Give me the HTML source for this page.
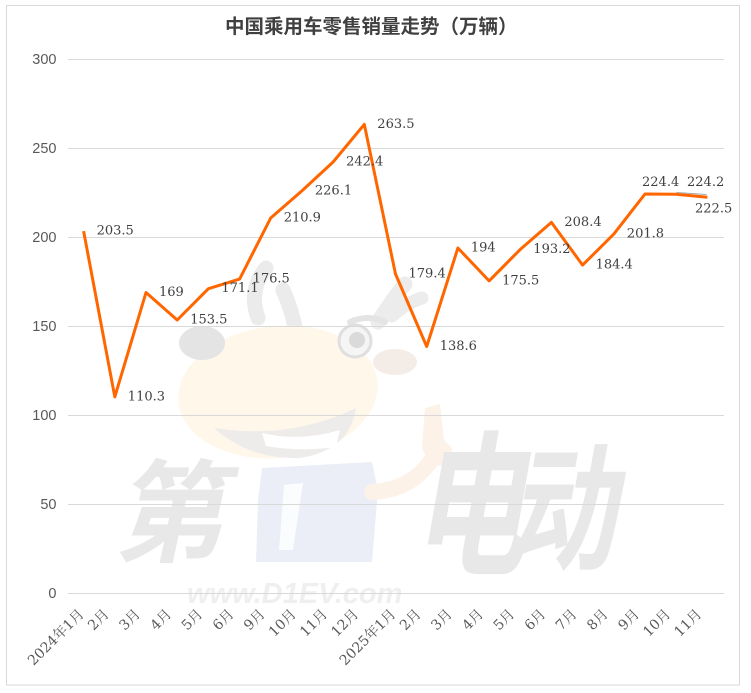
<!DOCTYPE html>
<html>
<head>
<meta charset="utf-8">
<style>
html,body{margin:0;padding:0;background:#fff;}
svg{display:block;}
</style>
</head>
<body>
<svg width="751" height="693" viewBox="0 0 751 693" xmlns="http://www.w3.org/2000/svg">
<rect x="0" y="0" width="751" height="693" fill="#ffffff"/>
<rect x="6.5" y="5.5" width="733" height="679.5" fill="none" stroke="#d9d9d9" stroke-width="1"/>

<!-- watermark -->
<g>
  <!-- antlers -->
  <path d="M266,268 Q248,290 258,318" stroke="#ebebeb" stroke-width="15" stroke-linecap="round" fill="none"/>
  <path d="M283,290 Q292,310 296,332" stroke="#ebebeb" stroke-width="15" stroke-linecap="round" fill="none"/>
  <path d="M378,322 Q392,300 405,284" stroke="#ececec" stroke-width="15" stroke-linecap="round" fill="none"/>
  <path d="M392,316 Q408,302 422,298" stroke="#ececec" stroke-width="13" stroke-linecap="round" fill="none"/>
  <!-- head -->
  <ellipse cx="278" cy="392" rx="100" ry="66" fill="#fef7ea" transform="rotate(-6 278 392)"/>
  <!-- ear -->
  <ellipse cx="202" cy="343" rx="23" ry="17" fill="#e4e4e4"/>
  <!-- snout -->
  <ellipse cx="395" cy="362" rx="22" ry="13" fill="#f4ece6"/>
  <!-- eyebrow -->
  <path d="M350,322 Q368,314 385,322" stroke="#e4e4e4" stroke-width="6" fill="none" stroke-linecap="round"/>
  <!-- eye -->
  <circle cx="355" cy="341" r="16" fill="#f5f5f5" stroke="#dfdfdf" stroke-width="3"/>
  <circle cx="357" cy="340" r="8" fill="#dadada"/>
  <!-- mouth -->
  <path d="M214,428 Q290,440 356,408 Q350,450 300,458 Q250,460 214,428 Z" fill="#eeebeb"/>
  <path d="M262,433 Q300,442 340,430 L336,447 Q300,452 266,446 Z" fill="#ffffff"/>
  <!-- shirt -->
  <path d="M262,468 L372,462 L378,490 L372,562 L256,562 L258,500 Z" fill="#ebeef6"/>
  <path d="M284,485 L303,483 L293,550 L279,550 Z" fill="#fbfcfe"/>
  <!-- arm & hand -->
  <path d="M372,492 Q410,490 430,462" stroke="#fcf2e8" stroke-width="16" fill="none" stroke-linecap="round"/>
  <path d="M425,408 L440,404 L444,440 L452,448 L450,465 L430,466 L422,448 Z" fill="#fcf2e8"/>
  <!-- big watermark text -->
  <text transform="translate(114,553) skewX(-12)" font-family="'Noto Sans CJK SC', sans-serif" font-weight="700" font-size="111" fill="#e8e8e8">第</text>
  <text transform="translate(412,562) skewX(-10) scale(0.95,1.3)" font-family="'Noto Sans CJK SC', sans-serif" font-weight="700" font-size="120" fill="#e8e8e8">电</text>
  <text transform="translate(508,559) skewX(-10) scale(0.9,1.15)" font-family="'Noto Sans CJK SC', sans-serif" font-weight="700" font-size="120" fill="#e8e8e8">动</text>
  <text x="187" y="603" font-family="'Liberation Sans', sans-serif" font-weight="700" font-style="italic" font-size="29" fill="#efefef">www.D1EV.com</text>
</g>

<!-- title -->
<text x="225" y="27" dominant-baseline="central" font-family="'Liberation Sans','Noto Sans CJK SC',sans-serif" font-weight="700" font-size="19.5" fill="#404040">中国乘用车零售销量走势（万辆）</text>

<!-- gridlines -->
<g stroke="#d9d9d9" stroke-width="1">
  <line x1="68" y1="59.5" x2="724" y2="59.5"/>
  <line x1="68" y1="148.5" x2="724" y2="148.5"/>
  <line x1="68" y1="237.5" x2="724" y2="237.5"/>
  <line x1="68" y1="326.5" x2="724" y2="326.5"/>
  <line x1="68" y1="415.5" x2="724" y2="415.5"/>
  <line x1="68" y1="504.5" x2="724" y2="504.5"/>
  <line x1="68" y1="593.5" x2="724" y2="593.5"/>
</g>

<!-- y labels -->
<g font-family="'Liberation Sans',sans-serif" font-size="14.5" fill="#595959" text-anchor="end" dominant-baseline="central">
  <text x="56.5" y="60">300</text>
  <text x="56.5" y="149">250</text>
  <text x="56.5" y="238">200</text>
  <text x="56.5" y="327">150</text>
  <text x="56.5" y="416">100</text>
  <text x="56.5" y="505">50</text>
  <text x="56.5" y="594">0</text>
</g>

<!-- x labels -->
<g font-family="'DejaVu Serif','Noto Serif CJK SC',serif" font-size="14" fill="#595959" text-anchor="end" dominant-baseline="central">
  <text transform="translate(82,612) rotate(-45)">2024年1月</text>
  <text transform="translate(107,612) rotate(-45)">2月</text>
  <text transform="translate(138.2,612) rotate(-45)">3月</text>
  <text transform="translate(169.4,612) rotate(-45)">4月</text>
  <text transform="translate(200.6,612) rotate(-45)">5月</text>
  <text transform="translate(231.8,612) rotate(-45)">6月</text>
  <text transform="translate(262.9,612) rotate(-45)">9月</text>
  <text transform="translate(294.1,612) rotate(-45)">10月</text>
  <text transform="translate(325.3,612) rotate(-45)">11月</text>
  <text transform="translate(356.5,612) rotate(-45)">12月</text>
  <text transform="translate(393.7,612) rotate(-45)">2025年1月</text>
  <text transform="translate(418.9,612) rotate(-45)">2月</text>
  <text transform="translate(450.1,612) rotate(-45)">3月</text>
  <text transform="translate(481.3,612) rotate(-45)">4月</text>
  <text transform="translate(512.5,612) rotate(-45)">5月</text>
  <text transform="translate(543.6,612) rotate(-45)">6月</text>
  <text transform="translate(574.8,612) rotate(-45)">7月</text>
  <text transform="translate(606,612) rotate(-45)">8月</text>
  <text transform="translate(637.2,612) rotate(-45)">9月</text>
  <text transform="translate(668.4,612) rotate(-45)">10月</text>
  <text transform="translate(699.6,612) rotate(-45)">11月</text>
</g>

<!-- series -->
<polyline fill="none" stroke="#ff6600" stroke-width="3" stroke-linejoin="round" stroke-linecap="butt"
  points="83.6,231.1 114.8,396.9 146.0,292.5 177.2,320.0 208.4,288.7 239.6,279.1 270.7,218.0 301.9,190.9 333.1,162.0 364.3,124.4 395.5,274.0 426.7,346.5 457.9,248.0 489.1,280.9 520.3,249.4 551.4,222.4 582.6,265.1 613.8,234.1 645.0,194.0 676.2,194.3 707.4,197.3"/>
<line x1="676.5" y1="192.5" x2="706.5" y2="194.5" stroke="#a6a6a6" stroke-width="1"/>

<!-- data labels -->
<g font-family="'DejaVu Serif',serif" font-size="13" fill="#404040" dominant-baseline="central">
  <text x="96.6" y="231.1">203.5</text>
  <text x="127.8" y="396.9">110.3</text>
  <text x="159" y="292.5">169</text>
  <text x="190.2" y="320.0">153.5</text>
  <text x="221.4" y="288.7">171.1</text>
  <text x="252.6" y="279.1">176.5</text>
  <text x="283.7" y="218.0">210.9</text>
  <text x="314.9" y="190.9">226.1</text>
  <text x="346.1" y="162.0">242.4</text>
  <text x="377.3" y="124.4">263.5</text>
  <text x="408.5" y="274.0">179.4</text>
  <text x="439.7" y="346.5">138.6</text>
  <text x="470.9" y="248.0">194</text>
  <text x="502.1" y="280.9">175.5</text>
  <text x="533.3" y="249.4">193.2</text>
  <text x="564.4" y="222.4">208.4</text>
  <text x="595.6" y="265.1">184.4</text>
  <text x="626.8" y="234.1">201.8</text>
  <text x="642" y="182.7">224.4</text>
  <text x="687" y="182.7">224.2</text>
  <text x="695" y="209">222.5</text>
</g>
</svg>
</body>
</html>
